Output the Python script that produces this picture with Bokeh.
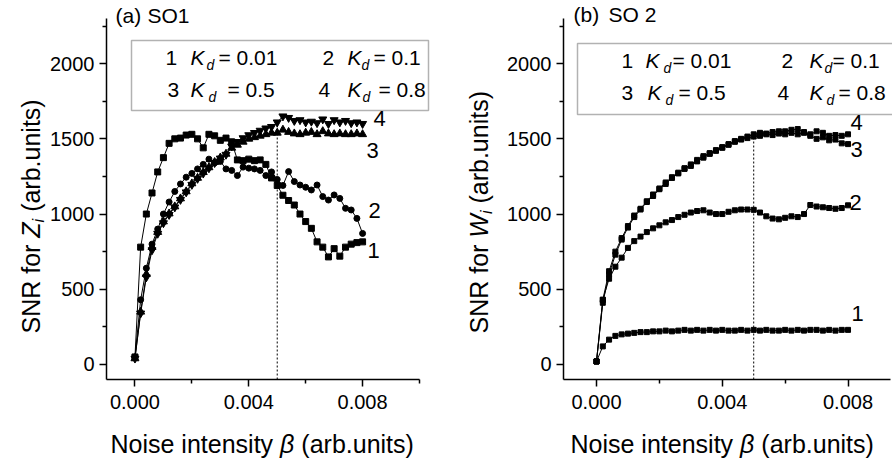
import math
from bokeh.plotting import figure
from bokeh.layouts import row
from bokeh.models import Label, BoxAnnotation, FixedTicker, PrintfTickFormatter, Range1d
from bokeh.embed import file_html
from bokeh.resources import INLINE

# ---------------- data ----------------
beta = [0.0, 0.0002, 0.0004, 0.0006, 0.0008, 0.0010, 0.0012, 0.0014, 0.0016, 0.0018,
        0.0020, 0.0022, 0.0024, 0.0026, 0.0028, 0.0030, 0.0032, 0.0034, 0.0036, 0.0038,
        0.0040, 0.0042, 0.0044, 0.0046, 0.0048, 0.0050, 0.0052, 0.0054, 0.0056, 0.0058,
        0.0060, 0.0062, 0.0064, 0.0066, 0.0068, 0.0070, 0.0072, 0.0074, 0.0076, 0.0078,
        0.0080]

so1_kd001 = [50, 780, 1000, 1140, 1280, 1375, 1470, 1500, 1505, 1525,
             1530, 1500, 1440, 1530, 1520, 1490, 1505, 1480, 1360, 1355,
             1365, 1355, 1360, 1330, 1240, 1190, 1125, 1090, 1060, 1000,
             950, 905, 815, 780, 715, 770, 720, 780, 800, 810, 815]
so1_kd01 = [50, 430, 640, 800, 900, 1000, 1080, 1150, 1200, 1245,
            1270, 1300, 1330, 1365, 1340, 1350, 1300, 1290, 1256, 1312,
            1305, 1300, 1290, 1256, 1280, 1230, 1190, 1282, 1216, 1193,
            1178, 1160, 1193, 1116, 1093, 1127, 1104, 1038, 1027, 971, 871]
so1_kd05 = [40, 350, 600, 780, 880, 950, 1003, 1050, 1103, 1150,
            1203, 1240, 1278, 1310, 1345, 1375, 1400, 1440, 1460, 1480,
            1500, 1510, 1520, 1530, 1540, 1540, 1560, 1545, 1535, 1530,
            1540, 1545, 1530, 1550, 1535, 1530, 1535, 1530, 1530, 1535, 1530]
so1_kd08 = [40, 340, 580, 760, 870, 940, 995, 1045, 1095, 1145,
            1195, 1235, 1270, 1305, 1340, 1370, 1395, 1450, 1480, 1505,
            1525, 1540, 1555, 1570, 1580, 1610, 1650, 1640, 1620, 1625,
            1610, 1615, 1605, 1630, 1600, 1625, 1610, 1620, 1605, 1610, 1600]

so2_kd001 = [20, 120, 165, 190, 200, 205, 210, 215, 215, 220,
             220, 225, 220, 225, 230, 225, 230, 225, 230, 225,
             230, 225, 225, 230, 225, 230, 225, 230, 225, 225,
             230, 225, 230, 225, 230, 230, 225, 230, 225, 230, 230]
so2_kd01 = [20, 430, 570, 650, 710, 775, 820, 850, 880, 905,
            925, 945, 960, 980, 995, 1010, 1020, 1025, 1010, 1000,
            1000, 1015, 1025, 1030, 1030, 1028, 1010, 985, 970, 965,
            975, 985, 980, 1000, 1060, 1050, 1045, 1040, 1035, 1040, 1058]
so2_kd05 = [20, 410, 600, 730, 830, 910, 980, 1030, 1080, 1120,
            1165, 1200, 1240, 1270, 1305, 1320, 1350, 1375, 1400, 1420,
            1440, 1460, 1480, 1495, 1505, 1515, 1520, 1530, 1525, 1535,
            1530, 1540, 1530, 1540, 1520, 1500, 1510, 1490, 1495, 1470, 1465]
so2_kd08 = [20, 430, 620, 750, 840, 920, 990, 1035, 1085, 1130,
            1170, 1210, 1245, 1275, 1300, 1330, 1360, 1385, 1405, 1425,
            1445, 1465, 1485, 1500, 1515, 1530, 1540, 1535, 1545, 1550,
            1550, 1560, 1565, 1545, 1530, 1550, 1540, 1520, 1525, 1520, 1530]

curve_ids = ["1", "2", "3", "4"]
kd_values = ["0.01", "0.1", "0.5", "0.8"]
x_ticks = [0.0, 0.004, 0.008]
x_minor = [0.002, 0.006, 0.010]
y_ticks = [0, 500, 1000, 1500, 2000]
y_minor = [250, 750, 1250, 1750, 2250]
beta_marked = 0.005
marked_index = 25

# ---------------- styling helpers ----------------
FONT = "Liberation Sans"
ADV = {' ': .278, '(': .333, ')': .333, '.': .278, '=': .584, 'a': .556, 'b': .556,
       'd': .556, 'e': .556, 'f': .278, 'i': .222, 'n': .556, 'o': .556, 'r': .333,
       's': .5, 't': .278, 'u': .556, 'y': .5, 'N': .722, 'R': .722, 'S': .667,
       'O': .778, 'Z': .611, 'K': .667, 'W': .944, 'β': .575}
for _d in "0123456789":
    ADV[_d] = .556
MID = 0.36  # baseline -> visual middle, in em


def tw(t, size):
    return sum(ADV.get(c, .556) for c in t) * size


H = 462
Y_AX = (-100, 2300)            # drawn y-axis extent
PY_TOP, PY_BOT = 18, 379       # page rows of y = 2300 and y = -100
SY = (PY_BOT - PY_TOP) / (Y_AX[1] - Y_AX[0])
Y_RANGE = (Y_AX[0] - (H - PY_BOT) / SY, Y_AX[1] + PY_TOP / SY)


class Geo:
    def __init__(self, left, width, X0, x0, X1, x1):
        self.sx = (X1 - X0) / (x1 - x0)
        self.x_range = (x0 - (X0 - left) / self.sx, x0 + (left + width - X0) / self.sx)
        self.width = width
        self.X0, self.x0 = X0, x0

    def __call__(self, X, Y):
        return self.x0 + (X - self.X0) / self.sx, Y_AX[1] - (Y - PY_TOP) / SY

    def xdata(self, X):
        return self.x0 + (X - self.X0) / self.sx


def put(p, conv, X, Y, text, size, style="normal", align="left", angle=0.0):
    # (X, Y): page pixel position of the text's visual middle
    x, y = conv(X, Y)
    p.add_layout(Label(x=x, y=y, text=text, text_font=FONT, text_font_size=f"{size}px",
                       text_font_style=style, text_align=align, text_baseline="middle",
                       text_color="black", angle=angle))


def put_b(p, conv, X, Yb, text, size, style="normal", align="left"):
    # Yb: baseline row
    put(p, conv, X, Yb - MID * size, text, size, style, align)


def rich_h(p, conv, X, Yb, parts):
    for t, size, style, dy in parts:
        lead = len(t) - len(t.lstrip())
        put_b(p, conv, X + tw(" ", size) * lead, Yb + dy, t.strip(), size, style)
        X += tw(t, size)


def rich_v(p, conv, Xb, Y, parts):
    # bottom-to-top text; Xb is the baseline column (glyphs rise to the left)
    for t, size, style, dy in parts:
        lead = len(t) - len(t.lstrip())
        put(p, conv, Xb + dy - MID * size, Y - tw(" ", size) * lead, t.strip(), size, style,
            angle=math.pi / 2)
        Y -= tw(t, size)


def make_panel(geo, x_axis_end):
    p = figure(width=geo.width, height=H, x_range=Range1d(*geo.x_range), y_range=Range1d(*Y_RANGE),
               min_border_left=0, min_border_right=0, min_border_top=0, min_border_bottom=0,
               output_backend="svg", toolbar_location=None, tools="")
    p.outline_line_color = None
    p.xgrid.grid_line_color = None
    p.ygrid.grid_line_color = None
    p.background_fill_color = "white"
    p.border_fill_color = "white"
    p.xaxis.ticker = FixedTicker(ticks=x_ticks, minor_ticks=x_minor)
    p.yaxis.ticker = FixedTicker(ticks=y_ticks, minor_ticks=y_minor)
    p.xaxis.formatter = PrintfTickFormatter(format="%.3f")
    p.xaxis.fixed_location = Y_AX[0]
    p.yaxis.fixed_location = geo.x0
    p.xaxis.bounds = (geo.x0, x_axis_end)
    p.yaxis.bounds = Y_AX
    for ax in (p.xaxis[0], p.yaxis[0]):
        ax.axis_line_width = 1.5
        ax.axis_line_color = "black"
        ax.major_tick_line_width = 1.5
        ax.minor_tick_line_width = 1.5
        ax.major_tick_line_color = "black"
        ax.minor_tick_line_color = "black"
        ax.major_tick_out = 7
        ax.major_tick_in = 0
        ax.minor_tick_out = 4
        ax.minor_tick_in = 0
        ax.major_label_text_font = FONT
        ax.major_label_text_font_size = "20px"
        ax.major_label_text_color = "black"
    p.yaxis.major_label_standoff = 5
    p.xaxis.major_label_standoff = 8
    return p


def add_legend(p, conv, box, items):
    bx0, by0, bx1, by1 = box
    x0, y0 = conv(bx0, by1)
    x1, y1 = conv(bx1, by0)
    p.add_layout(BoxAnnotation(left=x0, right=x1, bottom=y0, top=y1, fill_color="white",
                               fill_alpha=1.0, line_color="black", line_width=1.5))
    for i, (Yb, xn, xk, xd, xe) in enumerate(items):
        put_b(p, conv, xn, Yb, curve_ids[i], 21)
        put_b(p, conv, xk, Yb, "K", 21, "italic")
        put_b(p, conv, xd, Yb + 5, "d", 14, "italic")
        put_b(p, conv, xe, Yb, "= " + kd_values[i], 21)


# ---------------- panel (a) ----------------
ga = Geo(0, 448, 106, -0.001, 419, 0.010)
pa = make_panel(ga, 0.010)

series_a = [so1_kd001, so1_kd01, so1_kd05, so1_kd08]
markers_a = [("square", 6), ("circle", 6), ("triangle", 8), ("inverted_triangle", 8)]
pa.segment(x0=[beta_marked], y0=[Y_AX[0]], x1=[beta_marked], y1=[so1_kd08[marked_index]],
           line_color="black", line_width=1, line_dash="2 2")
for ys, (m, s) in zip(series_a, markers_a):
    pa.line(beta, ys, line_color="black", line_width=1)
    pa.scatter(beta, ys, marker=m, size=s, fill_color="black", line_color="black")

add_legend(pa, ga, (131, 40, 428, 110), [
    (65, 165, 190, 206, 218),
    (65, 322, 347, 361, 373),
    (97, 167, 190, 208, 227),
    (97, 318, 347, 362, 378),
])
put_b(pa, ga, 115, 23, "(a)", 21)
put_b(pa, ga, 147, 23, "SO1", 21)
for cid, (X, Y) in zip(curve_ids, [(373, 250), (374, 210), (372, 150), (379, 118)]):
    put(pa, ga, X, Y, cid, 22, align="center")
rich_v(pa, ga, 39, 333, [("SNR for ", 25, "normal", 0), ("Z", 25, "italic", 0),
                         ("i", 16, "italic", 5), (" (arb.units)", 25, "normal", 0)])
rich_h(pa, ga, 110, 452, [("Noise intensity ", 25, "normal", 0), ("β", 25, "italic", 0),
                          (" (arb.units)", 25, "normal", 0)])

# ---------------- panel (b) ----------------
gb = Geo(448, 444, 563, -0.00105, 884, 0.00916)
pb = make_panel(gb, gb.xdata(890))

series_b = [so2_kd001, so2_kd01, so2_kd05, so2_kd08]
pb.segment(x0=[beta_marked], y0=[Y_AX[0]], x1=[beta_marked], y1=[so2_kd08[marked_index]],
           line_color="black", line_width=1, line_dash="2 2")
for ys in series_b:
    pb.line(beta, ys, line_color="black", line_width=1)
    pb.scatter(beta, ys, marker="square", size=5, fill_color="black", line_color="black")

add_legend(pb, gb, (577, 43, 905, 114), [
    (68, 621, 645, 663, 672),
    (68, 781, 809, 824, 832),
    (100, 621, 647, 665, 678),
    (100, 777, 809, 826, 838),
])
put_b(pb, gb, 573, 22, "(b)", 21)
put_b(pb, gb, 608, 22, "SO 2", 21)
for cid, (X, Y) in zip(curve_ids, [(857, 313), (855, 202), (856, 149), (856, 122)]):
    put(pb, gb, X, Y, cid, 22, align="center")
rich_v(pb, gb, 487, 333, [("SNR for ", 25, "normal", 0), ("W", 25, "italic", 0),
                          ("i", 16, "italic", 5), (" (arb.units)", 25, "normal", 0)])
rich_h(pb, gb, 570, 452, [("Noise intensity ", 25, "normal", 0), ("β", 25, "italic", 0),
                          (" (arb.units)", 25, "normal", 0)])

layout = row(pa, pb)
open("out.html", "w").write(file_html(layout, INLINE))
